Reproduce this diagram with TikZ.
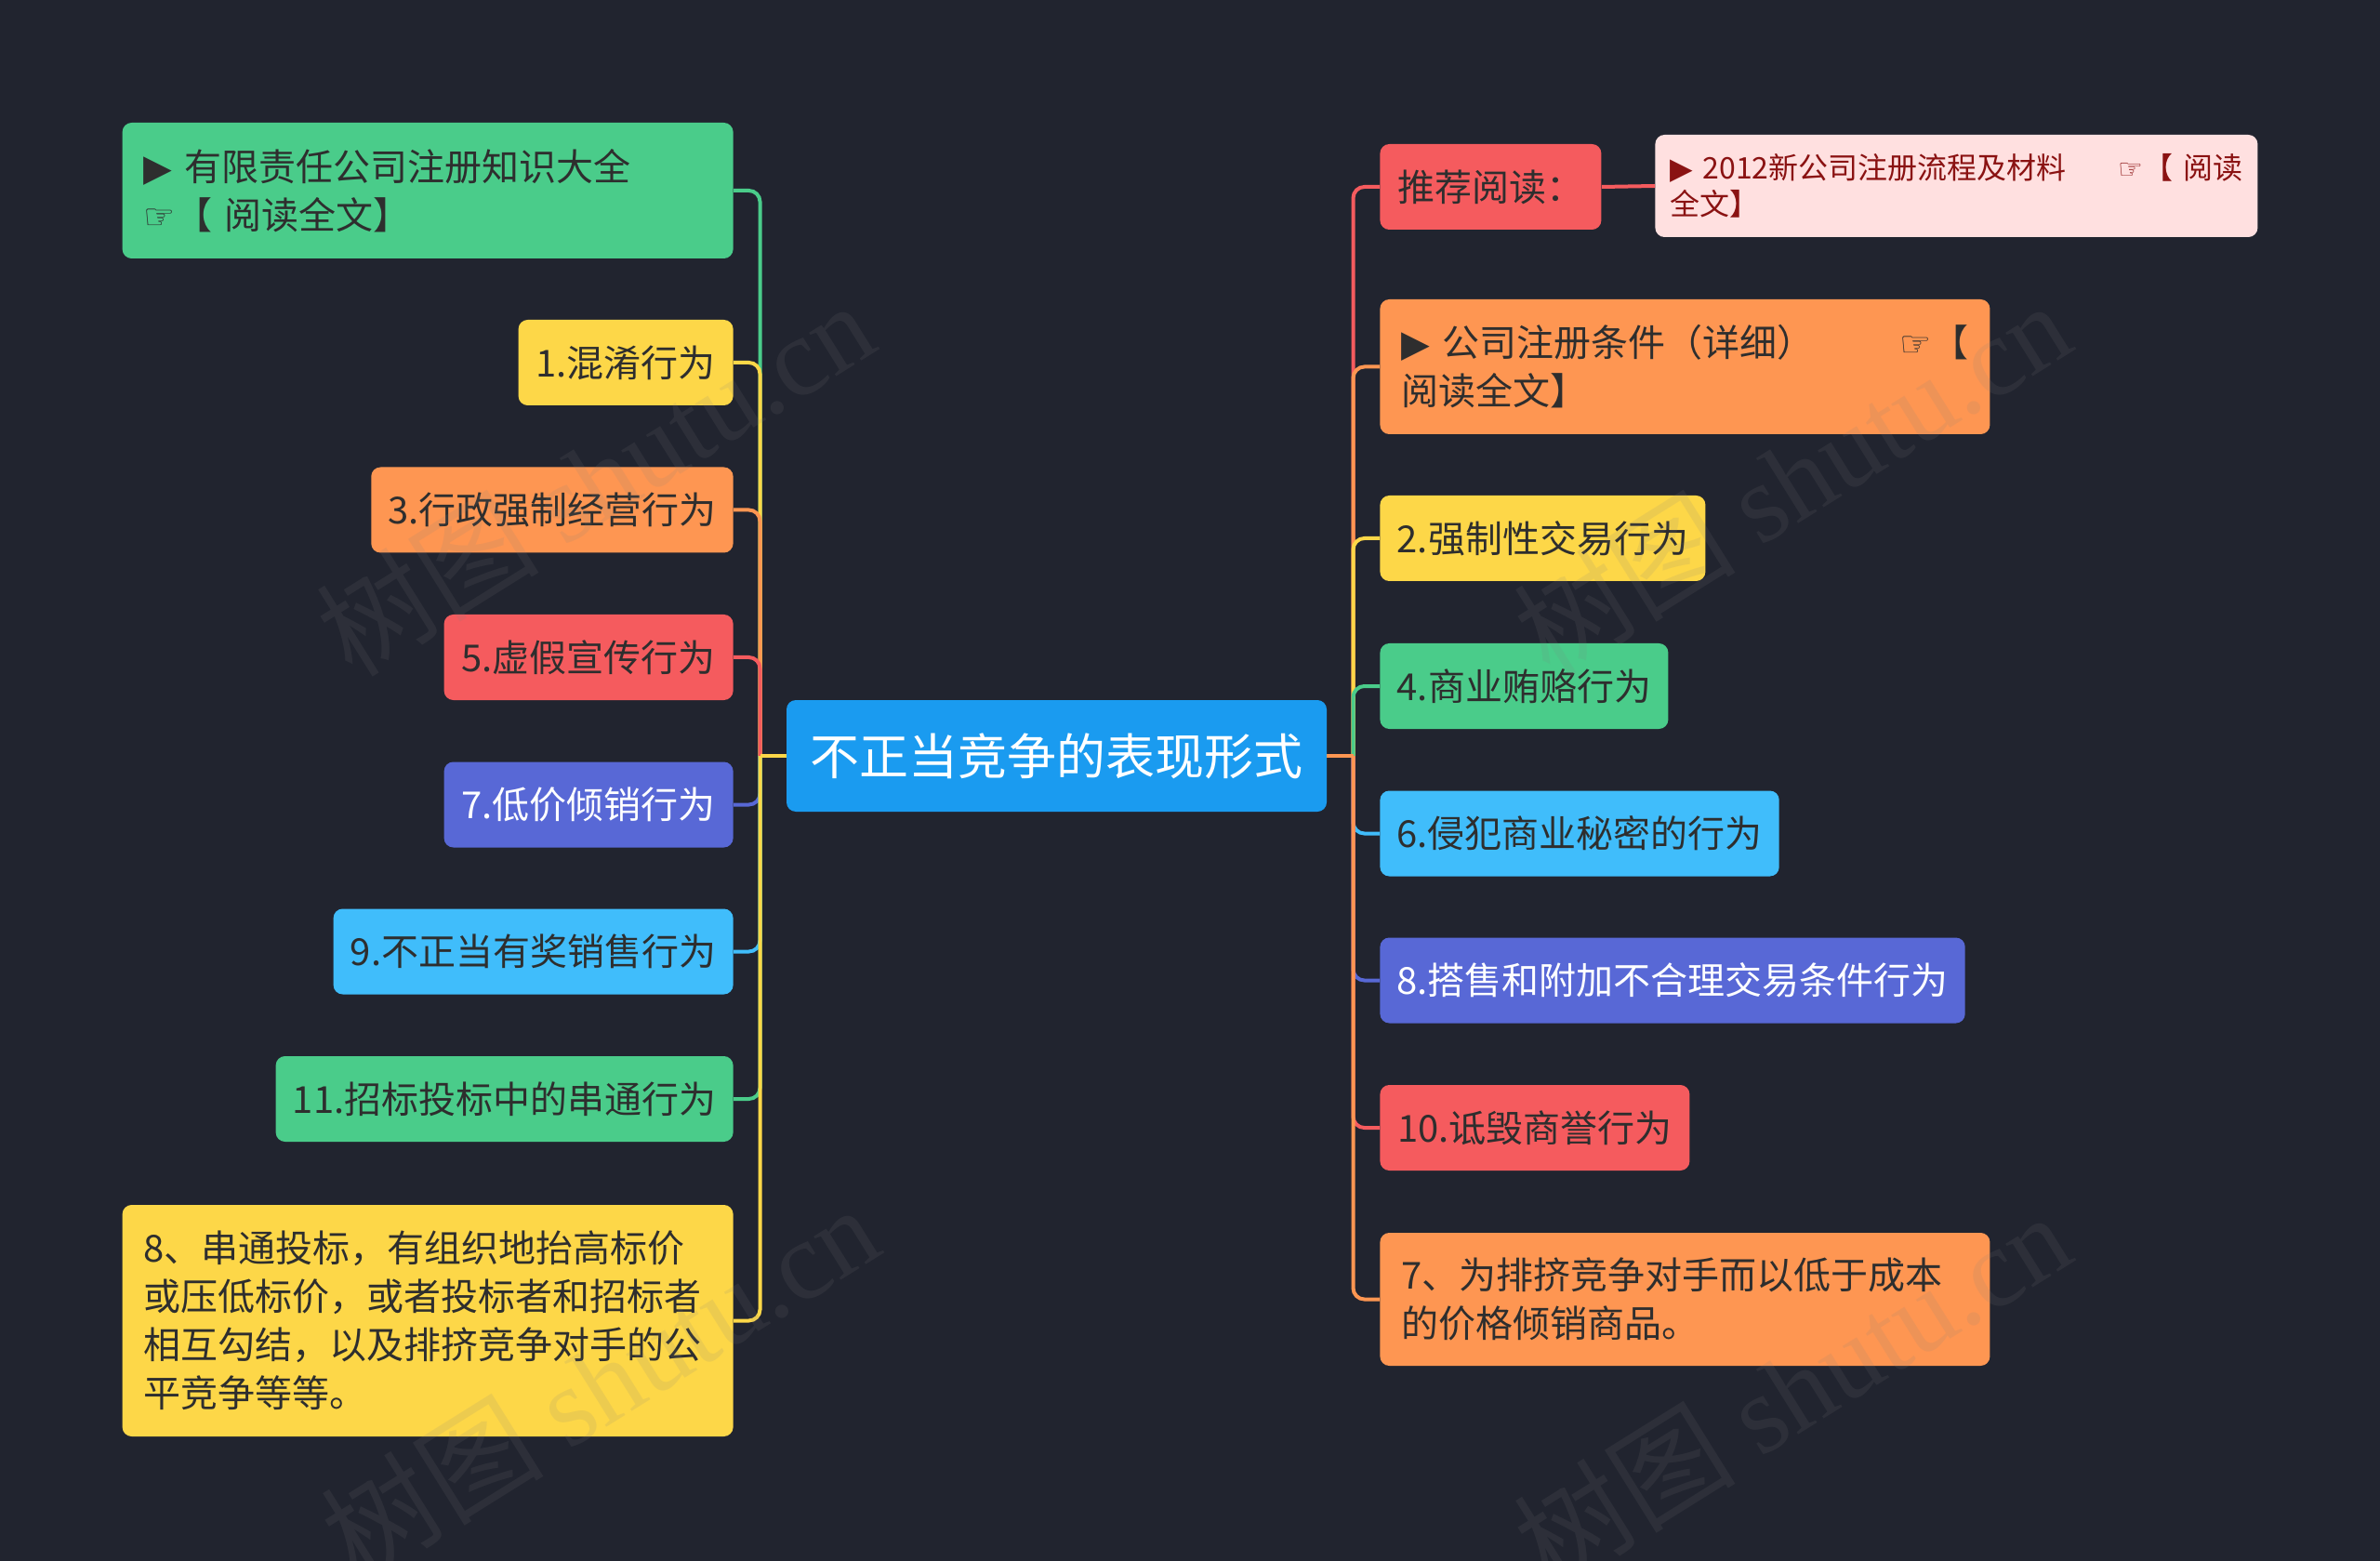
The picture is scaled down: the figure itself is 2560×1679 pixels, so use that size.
\documentclass[tikz,border=0pt]{standalone}
\usepackage{fontspec}
\setmainfont{Noto Sans CJK SC}
\newfontfamily\djsym{DejaVu Sans}
\newfontfamily\wmlat{Liberation Serif}
\definecolor{bg}{HTML}{21242F}
\definecolor{cgreen}{HTML}{4ACC8A}
\definecolor{cyellow}{HTML}{FDD748}
\definecolor{corange}{HTML}{FE9652}
\definecolor{cred}{HTML}{F55B5E}
\definecolor{cindigo}{HTML}{5868D6}
\definecolor{ccyan}{HTML}{40BDFB}
\definecolor{cblue}{HTML}{1A9BF0}
\definecolor{cpink}{HTML}{FFE0E0}
\definecolor{cpinktxt}{HTML}{8A1212}
\definecolor{txt}{HTML}{2E2E2E}
\begin{document}
\begin{tikzpicture}[x=0.5pt,y=-0.5pt,
  box/.style={rounded corners=5pt, inner xsep=11.5pt, inner ysep=0pt,
    font=\fontsize{20}{26}\selectfont, text=txt},
  lnode/.style={box, anchor=east, minimum height=46pt, inner xsep=9pt},
  rnode/.style={box, anchor=west, minimum height=46pt, inner xsep=9pt},
  multi/.style={text width=#1, align=left, inner xsep=11.5pt},
  conn/.style={line width=2pt, rounded corners=6pt},
  straight/.style={line width=2pt},
  wm/.style={font=\fontsize{60}{60}\selectfont, text=gray, opacity=0.13, rotate=32}]
\fill[bg] (0,0) rectangle (2560,1679);
\useasboundingbox (0,0) rectangle (2560,1679);

% center
\node[box, fill=cblue, text=white, font=\fontsize{26.5}{32}\selectfont,
  minimum width=290.5pt, minimum height=60pt] (C) at (1136.5,813) {不正当竞争的表现形式};

% left nodes
\node[lnode, fill=cgreen, minimum height=73pt, multi=305.5pt] (L1) at (789,205)
  {{\djsym ▶} 有限责任公司注册知识大全\\{\djsym\fontsize{19}{26}\selectfont ☞}【 阅读全文】};
\node[lnode, fill=cyellow, minimum width=115.5pt] (L2) at (789,390) {1.混淆行为};
\node[lnode, fill=corange, minimum width=194.5pt] (L3) at (789,548.5) {3.行政强制经营行为};
\node[lnode, fill=cred, minimum width=155.5pt] (L4) at (789,707) {5.虚假宣传行为};
\node[lnode, fill=cindigo, text=white, minimum width=155.5pt] (L5) at (789,865.5) {7.低价倾销行为};
\node[lnode, fill=ccyan, minimum width=215pt] (L6) at (789,1023.5) {9.不正当有奖销售行为};
\node[lnode, fill=cgreen, minimum width=246pt] (L7) at (789,1182) {11.招标投标中的串通行为};
\node[lnode, fill=cyellow, minimum height=124.5pt, multi=305.5pt] (L8) at (789,1420.5)
  {8、串通投标，有组织地抬高标价\\或压低标价，或者投标者和招标者\\相互勾结，以及排挤竞争对手的公\\平竞争等等。};

% right nodes
\node[rnode, fill=cred, minimum width=119pt] (R1) at (1484,201) {推荐阅读：};
\node[box, anchor=west, fill=cpink, text=cpinktxt, minimum height=55pt,
  font=\fontsize{16}{19.5}\selectfont, multi=308pt, inner xsep=8pt] (R1b) at (1780,200)
  {{\djsym ▶} 2012新公司注册流程及材料\hfill{\djsym\fontsize{15}{19.5}\selectfont ☞}【 阅读\\全文】};
\node[rnode, fill=corange, minimum height=72.5pt, multi=305pt] (R2) at (1484,394.5)
  {{\djsym ▶} 公司注册条件（详细）\hfill{\djsym\fontsize{19}{26}\selectfont ☞}【\\阅读全文】};
\node[rnode, fill=cyellow, minimum width=175pt] (R3) at (1484,579) {2.强制性交易行为};
\node[rnode, fill=cgreen, minimum width=155pt] (R4) at (1484,738) {4.商业贿赂行为};
\node[rnode, fill=ccyan, minimum width=214.5pt] (R5) at (1484,896.5) {6.侵犯商业秘密的行为};
\node[rnode, fill=cindigo, text=white, minimum width=313.5pt] (R6) at (1484,1054.5) {8.搭售和附加不合理交易条件行为};
\node[rnode, fill=cred, minimum width=166.5pt] (R7) at (1484,1213) {10.诋毁商誉行为};
\node[rnode, fill=corange, minimum height=71.5pt, multi=305pt] (R8) at (1484,1397.5)
  {7、为排挤竞争对手而以低于成本\\的价格倾销商品。};

% connectors
\coordinate (JL) at (817.5,813);
\coordinate (JR) at (1455.5,813);
\draw[conn, cgreen]  (JL) |- (L1.east);
\draw[conn, cyellow] (JL) |- (L2.east);
\draw[conn, corange] (JL) |- (L3.east);
\draw[conn, cred]    (JL) |- (L4.east);
\draw[conn, cindigo] (JL) |- (L5.east);
\draw[conn, ccyan]   (JL) |- (L6.east);
\draw[conn, cgreen]  (JL) |- (L7.east);
\draw[conn, cyellow] (JL) |- (L8.east);
\draw[straight, cyellow] (C.west) -- (JL);

\draw[conn, cred]    (JR) |- (R1.west);
\draw[conn, corange] (JR) |- (R2.west);
\draw[conn, cyellow] (JR) |- (R3.west);
\draw[conn, cgreen]  (JR) |- (R4.west);
\draw[conn, ccyan]   (JR) |- (R5.west);
\draw[conn, cindigo] (JR) |- (R6.west);
\draw[conn, cred]    (JR) |- (R7.west);
\draw[conn, corange] (JR) |- (R8.west);
\draw[straight, corange] (C.east) -- (JR);
\draw[straight, cred] (R1.east) -- (R1b.west);

% watermarks
\node[wm] (W1) at (640,514) {树图 {\wmlat shutu.cn}};
\node[wm] (W2) at (1927,514) {树图 {\wmlat shutu.cn}};
\node[wm] (W3) at (645,1486) {树图 {\wmlat shutu.cn}};
\node[wm] (W4) at (1927,1494) {树图 {\wmlat shutu.cn}};
\end{tikzpicture}
\end{document}
